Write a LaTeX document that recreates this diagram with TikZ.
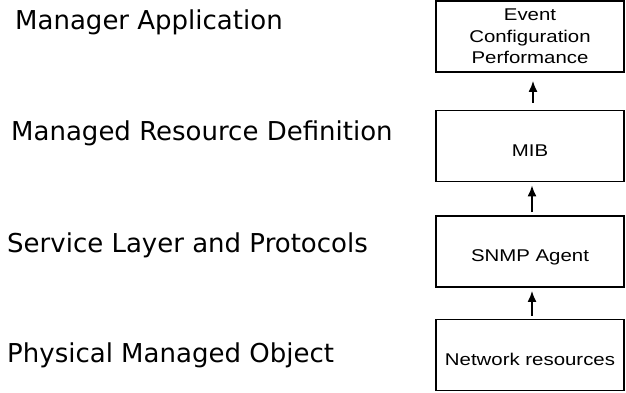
\documentclass[tikz,border=0pt]{standalone}
\usepackage{fontspec}
\setmainfont{DejaVu Sans}
\newfontfamily\boxfont{Liberation Sans}
\usetikzlibrary{arrows.meta}
\newcommand{\wide}[1]{\scalebox{1.2}[1]{#1}}
\tikzset{
    layertext/.style={anchor=base west, inner sep=0pt, font=\fontsize{26}{31}\selectfont},
    layerbox/.style={draw, line width=1.8pt, minimum width=188pt, minimum height=71pt,
        inner sep=2pt, font=\boxfont\fontsize{17}{21.5}\selectfont},
    onerow/.style={text height=20pt, text depth=0pt},
    uparrow/.style={-{Latex[length=11pt,width=9pt]}, line width=1.6pt, shorten >=3pt, shorten <=3pt}
}
\begin{document}
\begin{tikzpicture}[x=1pt, y=-1pt]
    \useasboundingbox (0,0) rectangle (626,392);

    % Etichette dei livelli
    \node[layertext] (mgrapp)   at (15,29)  {Manager Application};
    \node[layertext] (resdef)   at (11,140) {Managed Resource Definition};
    \node[layertext] (svclayer) at (7,252)  {Service Layer and Protocols};
    \node[layertext] (physobj)  at (7,362)  {Physical Managed Object};

    % Blocchi a destra
    \node[layerbox, align=center] (evtbox) at (530,36.5)
        {\wide{Event}\\\wide{Configuration}\\\wide{Performance}};
    \node[layerbox, onerow] (mibbox)   at (530,146)   {\wide{MIB}};
    \node[layerbox, onerow] (agentbox) at (530,251.5) {\wide{SNMP Agent}};
    \node[layerbox, onerow] (netbox)   at (530,355)   {\wide{Network resources}};

    % Frecce verso l'alto
    \draw[uparrow, shorten <=7pt, shorten >=8pt] ([xshift=3pt]mibbox.north) -- ([xshift=3pt]evtbox.south);
    \draw[uparrow] ([xshift=2pt]agentbox.north) -- ([xshift=2pt]mibbox.south);
    \draw[uparrow] ([xshift=2pt]netbox.north) -- ([xshift=2pt]agentbox.south);

\end{tikzpicture}
\end{document}
